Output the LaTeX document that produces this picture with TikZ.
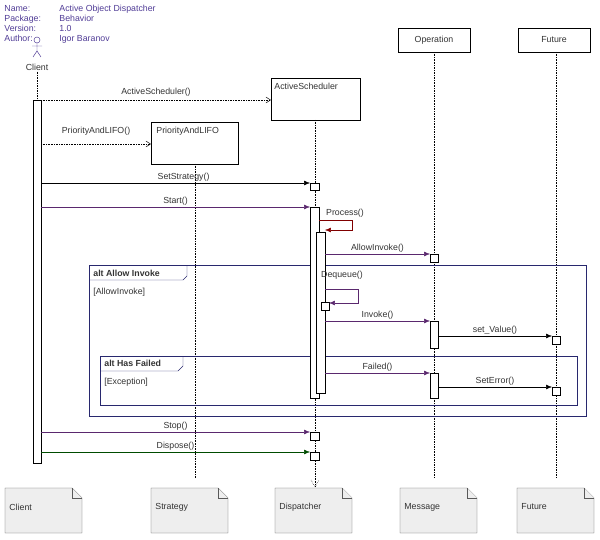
\documentclass[tikz,border=0pt]{standalone}
\usepackage{fontspec}
\setmainfont{Liberation Sans}
\usetikzlibrary{arrows.meta}
\definecolor{hdr}{RGB}{80,60,150}
\definecolor{msg}{RGB}{90,40,110}
\definecolor{frm}{RGB}{40,40,110}
\definecolor{notefill}{RGB}{238,238,238}
\tikzset{
  txt/.style={font=\fontsize{7.5}{8.6}\selectfont, inner sep=1pt, text=black!80},
  life/.style={densely dotted, thin},
  bar/.style={draw, fill=white, thin},
  call/.style={msg, thin, -{Latex[length=5pt,width=4pt]}},
  create/.style={densely dotted, thin, -{Straight Barb[length=4pt,width=5pt]}},
  note/.style={draw=gray!70!black, fill=notefill, thin},
}
\begin{document}
\begin{tikzpicture}[x=0.03cm,y=-0.03cm]
	\useasboundingbox (0,0) rectangle (600,539);
	\node[txt, text=hdr, anchor=north west, align=left] (hdr) at (3,4) {Name:\\Package:\\Version:\\Author:};
	\node[txt, text=hdr, anchor=north west, align=left] (hdrv) at (58,4) {Active Object Dispatcher\\Behavior\\1.0\\Igor Baranov};
	\draw[hdr] (37,40) circle (3);
	\draw[hdr] (37,43)--(37,51) (32,46)--(42,46) (37,51)--(33,57) (37,51)--(41,57);
	\node[txt] (client) at (37,67) {Client};
	\draw[fill=white] (271,78) rectangle (360,120);
	\node[txt, anchor=north west] (sched) at (273,82) {ActiveScheduler};
	\draw[fill=white] (151,122) rectangle (238,164);
	\node[txt, anchor=north west] (prio) at (155,126) {PriorityAndLIFO};
	\draw[fill=white] (398,28) rectangle (470,52);
	\node[txt] (oper) at (434,40) {Operation};
	\draw[fill=white] (518,28) rectangle (590,52);
	\node[txt] (fut) at (554,40) {Future};
	\coordinate (cend) at (37,100);
	\draw[life] (client.south)--(cend);
	\draw[life] (315,120)--(315,487);
	\draw[life] (195,164)--(195,478);
	\draw[life] (434,52)--(434,478);
	\draw[life] (556,52)--(556,478);
	\draw[densely dotted] (311,480)--(315,487)--(319,480);
	\draw[frm] (89,265) rectangle (586,416);
	\draw[frm] (89,280)--(183,280)--(187,276)--(187,265);
	\node[txt, font=\bfseries\fontsize{7.5}{8.6}\selectfont, anchor=west] (alt1) at (92,273) {alt Allow Invoke};
	\node[txt, anchor=west] (g1) at (92,292) {[AllowInvoke]};
	\draw[frm] (100,356) rectangle (577,405);
	\draw[frm] (100,371)--(178,371)--(183,366)--(183,356);
	\node[txt, font=\bfseries\fontsize{7.5}{8.6}\selectfont, anchor=west] (alt2) at (103,363) {alt Has Failed};
	\node[txt, anchor=west] (g2) at (103,382) {[Exception]};
	\draw[bar] (33,100) rectangle (41,463);
	\draw[bar] (310,207) rectangle (319,398);
	\draw[bar] (316,232) rectangle (325,393);
	\draw[bar] (310,183) rectangle (319,190);
	\draw[bar] (430,254) rectangle (438,262);
	\draw[bar] (321,302) rectangle (329,310);
	\draw[bar] (430,321) rectangle (438,348);
	\draw[bar] (552,336) rectangle (560,344);
	\draw[bar] (430,373) rectangle (438,398);
	\draw[bar] (552,387) rectangle (560,395);
	\draw[bar] (310,432) rectangle (319,440);
	\draw[bar] (310,452) rectangle (319,460);
	\draw[create] (41,100)--(271,100) node[txt, midway, above=2pt] {ActiveScheduler()};
	\draw[create] (41,144)--(151,144) node[txt, midway, above=6pt] {PriorityAndLIFO()};
	\draw[call, black] (41,183)--(310,183) node[txt, pos=0.53, above] {SetStrategy()};
	\draw[call, msg] (41,207)--(310,207) node[txt, pos=0.5, above] {Start()};
	\draw[call, red!50!black] (319,220)--(352,220)--(352,230)--(325,230);
	\node[txt] (proc) at (345,213) {Process()};
	\draw[call] (325,254)--(430,254) node[txt, midway, above] {AllowInvoke()};
	\draw[call] (325,289)--(358,289)--(358,303)--(329,303);
	\node[txt] (deq) at (342,275) {Dequeue()};
	\draw[call] (325,321)--(430,321) node[txt, midway, above] {Invoke()};
	\draw[call, black] (438,336)--(552,336) node[txt, midway, above] {set\_Value()};
	\draw[call] (325,373)--(430,373) node[txt, midway, above] {Failed()};
	\draw[call, black] (438,387)--(552,387) node[txt, midway, above] {SetError()};
	\draw[call, msg] (41,432)--(310,432) node[txt, pos=0.5, above] {Stop()};
	\draw[call, green!30!black] (41,452)--(310,452) node[txt, pos=0.5, above] {Dispose()};
	\foreach \x/\lbl/\nm in {5/Client/nclient,151/Strategy/nstrat,275/Dispatcher/ndisp,400/Message/nmsg,517/Future/nfut}{
		\draw[note] (\x,488)--(\x+67,488)--(\x+77,498)--(\x+77,533)--(\x,533)--cycle;
		\draw[note] (\x+67,488)--(\x+67,498)--(\x+77,498);
		\node[txt, anchor=west] (\nm) at (\x+3,507) {\lbl};
	}
\end{tikzpicture}
\end{document}
